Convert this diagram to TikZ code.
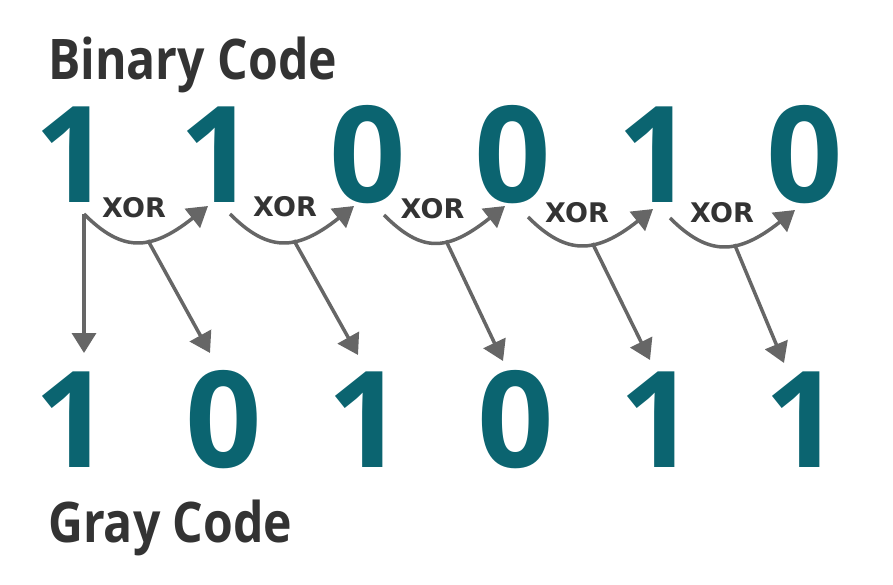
\documentclass[tikz,border=0pt]{standalone}
\usepackage{fontspec}
\setmainfont{Open Sans}
\newfontfamily\headfont[FakeStretch=0.86]{Open Sans}
\newfontfamily\xorfont{DejaVu Sans}
\usetikzlibrary{arrows.meta,calc}

\definecolor{bitteal}{HTML}{0B6470}
\definecolor{inkgray}{HTML}{333333}
\definecolor{arrowgray}{HTML}{666666}

\tikzstyle{bit}=[text=bitteal, inner sep=0pt, anchor=base, font=\fontsize{134}{134}\selectfont\bfseries]
\tikzstyle{heading}=[text=inkgray, inner sep=0pt, anchor=base west, font=\headfont\fontsize{56}{56}\selectfont\bfseries]
\tikzstyle{xorlabel}=[text=inkgray, inner sep=0pt, font=\xorfont\fontsize{27}{27}\selectfont\bfseries]
\tikzstyle{arrow}=[arrowgray, line width=3.5pt, -{Triangle[length=20pt, width=24pt]}]

\begin{document}
\begin{tikzpicture}[x=1pt, y=-1pt]
      \useasboundingbox (0,0) rectangle (893,585);

      \node[heading] (binary) at (48, 80) {Binary Code};
      \node[heading] (gray) at (48, 542) {Gray Code};

      \node[bit] (b1) at (72.5, 203) {1};
      \node[bit] (b2) at (217.5, 203) {1};
      \node[bit] (b3) at (367.5, 203) {0};
      \node[bit] (b4) at (512.5, 203) {0};
      \node[bit] (b5) at (655.5, 203) {1};
      \node[bit] (b6) at (805, 203) {0};

      \node[bit] (g1) at (73, 467) {1};
      \node[bit] (g2) at (224, 467) {0};
      \node[bit] (g3) at (365.5, 467) {1};
      \node[bit] (g4) at (516, 467) {0};
      \node[bit] (g5) at (657.5, 467) {1};
      \node[bit] (g6) at (803, 467) {1};

      \node[xorlabel] (x1) at (134, 208) {XOR};
      \node[xorlabel] (x2) at (285, 207) {XOR};
      \node[xorlabel] (x3) at (432.5, 209) {XOR};
      \node[xorlabel] (x4) at (577, 213) {XOR};
      \node[xorlabel] (x5) at (722, 212.5) {XOR};

      \draw[arrow] ($(b1.base)+(11.5,11)$) .. controls +(38,38) and +(-58,46) .. ($(b2.base)+(-9.5,3)$) coordinate[pos=0.58] (m1);
      \draw[arrow] ($(b2.base)+(12.5,11)$) .. controls +(38,38) and +(-58,46) .. ($(b3.base)+(-13.5,3)$) coordinate[pos=0.58] (m2);
      \draw[arrow] ($(b3.base)+(16.5,12)$) .. controls +(38,38) and +(-58,46) .. ($(b4.base)+(-7.5,3)$) coordinate[pos=0.58] (m3);
      \draw[arrow] ($(b4.base)+(15.5,14)$) .. controls +(38,38) and +(-58,46) .. ($(b5.base)+(-2.5,6)$) coordinate[pos=0.58] (m4);
      \draw[arrow] ($(b5.base)+(14.5,15)$) .. controls +(38,38) and +(-58,46) .. ($(b6.base)+(-10,7)$) coordinate[pos=0.58] (m5);

      \draw[arrow] ($(b1.base)+(11.5,11)$) -- ($(g1.base)+(11,-114)$);
      \draw[arrow] (m1) -- ($(g2.base)+(-14,-114)$);
      \draw[arrow] (m2) -- ($(g3.base)+(-7.5,-112)$);
      \draw[arrow] (m3) -- ($(g4.base)+(-13,-106)$);
      \draw[arrow] (m4) -- ($(g5.base)+(-7.5,-107)$);
      \draw[arrow] (m5) -- ($(g6.base)+(-19,-104)$);
    \end{tikzpicture}
\end{document}
